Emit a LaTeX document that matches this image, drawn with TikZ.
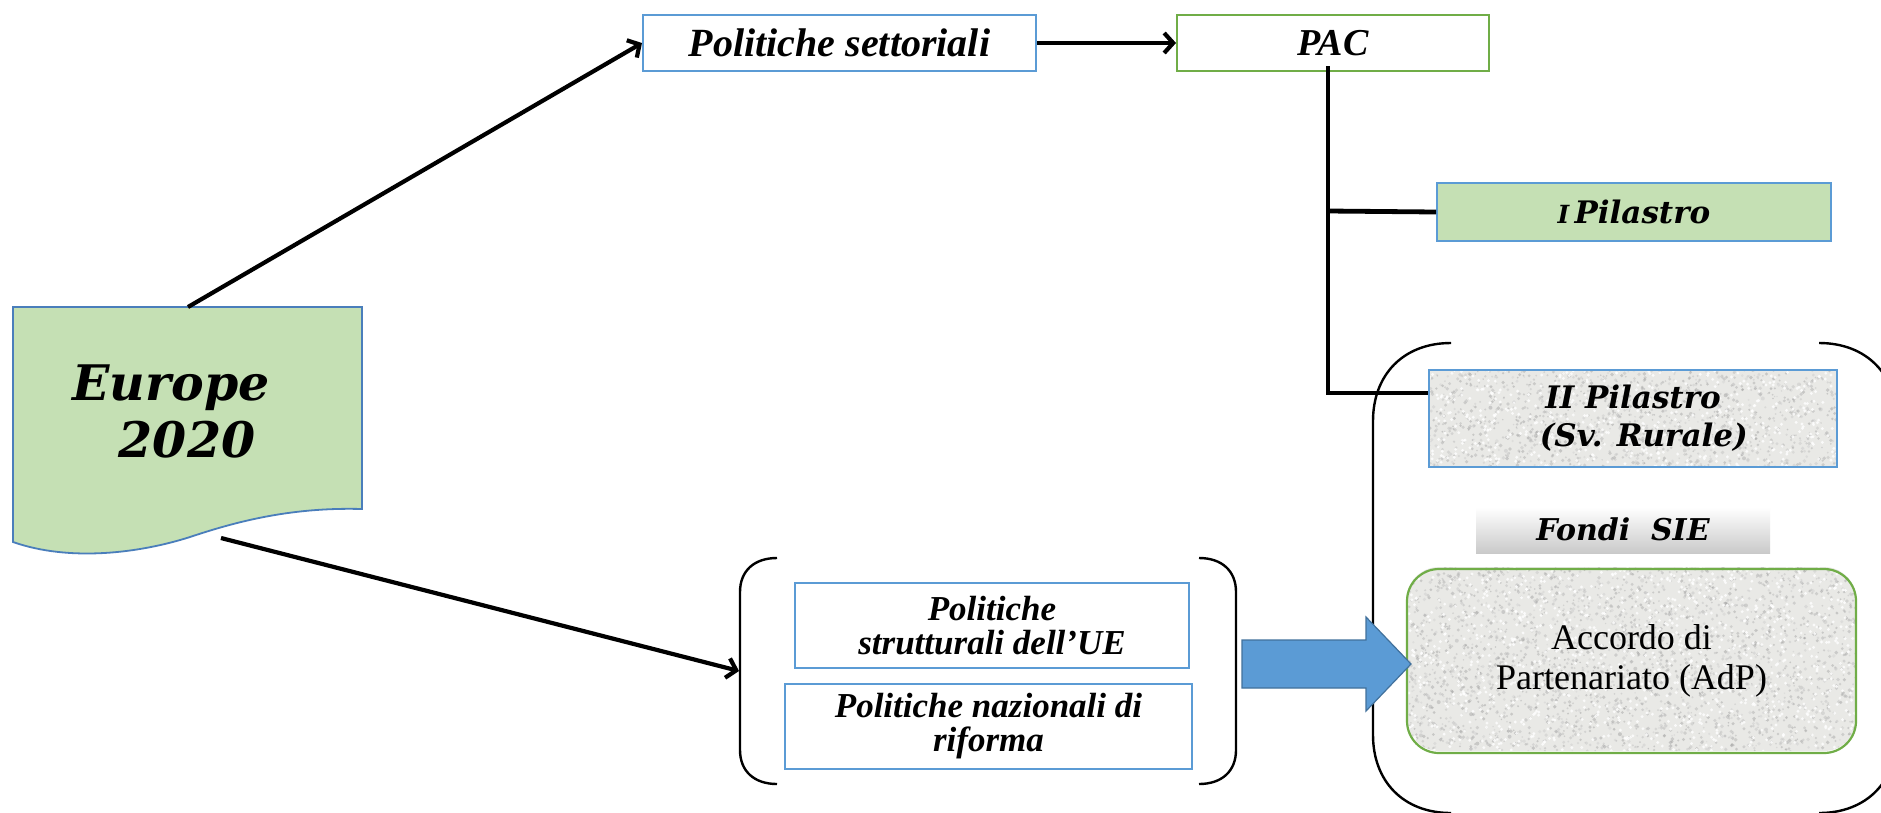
\documentclass[tikz,border=0pt]{standalone}
\usepackage{fontspec}
\setmainfont{Liberation Serif}
\newfontfamily\dvs{DejaVu Serif}
\usetikzlibrary{arrows.meta}
\definecolor{lgreen}{HTML}{C5E0B4}
\definecolor{bblue}{HTML}{5B9BD5}
\definecolor{ggreen}{HTML}{70AD47}
\definecolor{arrborder}{HTML}{41719C}
\definecolor{docborder}{HTML}{4A7EBB}
\definecolor{granite}{HTML}{E9E9E6}
\begin{document}
\begin{tikzpicture}[x=1pt,y=-1pt,
  conn/.style={line width=4.2pt,-{Straight Barb[length=9pt,width=20pt]}},
  tree/.style={line width=4.8pt},
  brack/.style={line width=2.4pt},
  sbox/.style={draw=bblue,line width=2pt,inner sep=0pt,align=center},
  dvb/.style={font=\dvs\bfseries\itshape\fontsize{31}{38}\selectfont}]
\useasboundingbox (0,0) rectangle (1881,812);
\clip (0,0) rectangle (1881,812);
\fill[white] (0,0) rectangle (1881,812);

% Europe 2020 document shape
\filldraw[fill=lgreen,draw=docborder,line width=1.8pt]
  (13,307) -- (362,307) -- (362,509)
  .. controls (290,507) and (235,522) .. (190,537)
  .. controls (140,553) and (70,562) .. (13,542) -- cycle;
\node[align=center,font=\dvs\bfseries\itshape\fontsize{49}{57}\selectfont] (eu) at (187,411) {Europe\kern 32pt\\2020};
\coordinate (eutop) at (188,307);
\coordinate (eubot) at (221,538);

% top row
\node[sbox,minimum width=393,minimum height=56,font=\bfseries\itshape\fontsize{40}{46}\selectfont] (ps) at (839.5,43) {Politiche settoriali};
\node[draw=ggreen,line width=2pt,inner sep=0pt,minimum width=312,minimum height=56,font=\bfseries\itshape\fontsize{38}{46}\selectfont] (pac) at (1333,43) {PAC};
\draw[conn] (eutop) -- (ps.west);
\draw[conn] (ps.east) -- (pac.west);

% pillars
\node[sbox,fill=lgreen,minimum width=394,minimum height=58,dvb] (p1) at (1634,212) {{\fontsize{25}{30}\selectfont I}\,Pilastro};

% granite texture for II Pilastro
\begin{scope}
  \clip (1429,370) rectangle (1837,467);
  \fill[granite] (1429,370) rectangle (1837,467);
  \pgfmathsetseed{7}
  \foreach \i in {1,...,1300}{
    \pgfmathsetmacro\xx{1429+408*rnd}
    \pgfmathsetmacro\yy{370+97*rnd}
    \pgfmathsetmacro\gg{35+45*rnd}
    \pgfmathsetmacro\rr{0.8+1.2*rnd}
    \fill[gray!\gg,opacity=0.45] (\xx,\yy) circle (\rr);
  }
  \foreach \i in {1,...,500}{
    \pgfmathsetmacro\xx{1429+408*rnd}
    \pgfmathsetmacro\yy{370+97*rnd}
    \fill[white,opacity=0.8] (\xx,\yy) circle (1.6);
  }
\end{scope}
\node[sbox,minimum width=408,minimum height=97,dvb] (p2) at (1633,418.5) {II Pilastro\\\ \ (Sv. Rurale)};

% trunk from PAC
\coordinate (t0) at (1328,66);
\coordinate (t1) at (1328,211);
\coordinate (t2) at (1328,393);
\draw[tree] (t0) -- (t2) -- (p2.west |- t2);
\draw[tree] (t1) -- (p1.west);

% Fondi SIE
\shade[top color=white,bottom color=gray!42] (1476,507) rectangle (1770,553);
\node[font=\dvs\bfseries\itshape\fontsize{30}{36}\selectfont] (fs) at (1623,529) {Fondi\ \ SIE};

% AdP
\begin{scope}
  \clip[rounded corners=32] (1407,567) rectangle (1856,751);
  \fill[granite] (1407,567) rectangle (1856,751);
  \pgfmathsetseed{11}
  \foreach \i in {1,...,2700}{
    \pgfmathsetmacro\xx{1407+449*rnd}
    \pgfmathsetmacro\yy{567+184*rnd}
    \pgfmathsetmacro\gg{35+45*rnd}
    \pgfmathsetmacro\rr{0.8+1.2*rnd}
    \fill[gray!\gg,opacity=0.45] (\xx,\yy) circle (\rr);
  }
  \foreach \i in {1,...,1000}{
    \pgfmathsetmacro\xx{1407+449*rnd}
    \pgfmathsetmacro\yy{567+184*rnd}
    \fill[white,opacity=0.8] (\xx,\yy) circle (1.6);
  }
\end{scope}
\node[draw=ggreen,line width=2.2pt,rounded corners=32,inner sep=0pt,minimum width=449,minimum height=184,align=center,font=\fontsize{36}{40}\selectfont] (adp) at (1631.5,661) {Accordo di\\Partenariato (AdP)};

% big bracket on right
\draw[brack] (1451,343) .. controls (1403,343) and (1373,375) .. (1373,421) -- (1373,735)
  .. controls (1373,781) and (1403,813) .. (1451,813);
\draw[brack] (1819,343) .. controls (1867,343) and (1897,375) .. (1897,421) -- (1897,735)
  .. controls (1897,781) and (1867,813) .. (1819,813);

% lower group
\node[sbox,minimum width=394,minimum height=85,font=\bfseries\itshape\fontsize{35}{34}\selectfont] (b1) at (992,625.5) {Politiche\\strutturali dell’UE};
\node[sbox,minimum width=407,minimum height=85,font=\bfseries\itshape\fontsize{35}{34}\selectfont] (b2) at (988.5,726.5) {Politiche nazionali di\\riforma};
\draw[brack] (777,558) .. controls (754,558) and (740,571) .. (740,592) -- (740,750)
  .. controls (740,771) and (754,784) .. (777,784);
\draw[brack] (1199,558) .. controls (1222,558) and (1236,571) .. (1236,592) -- (1236,750)
  .. controls (1236,771) and (1222,784) .. (1199,784);
\coordinate (brL) at (739,671);
\draw[conn] (eubot) -- (brL);

% block arrow
\filldraw[fill=bblue,draw=arrborder,line width=1.2pt]
  (1242,640) -- (1366,640) -- (1366,617) -- (1411,664) -- (1366,711) -- (1366,688) -- (1242,688) -- cycle;
\end{tikzpicture}
\end{document}
